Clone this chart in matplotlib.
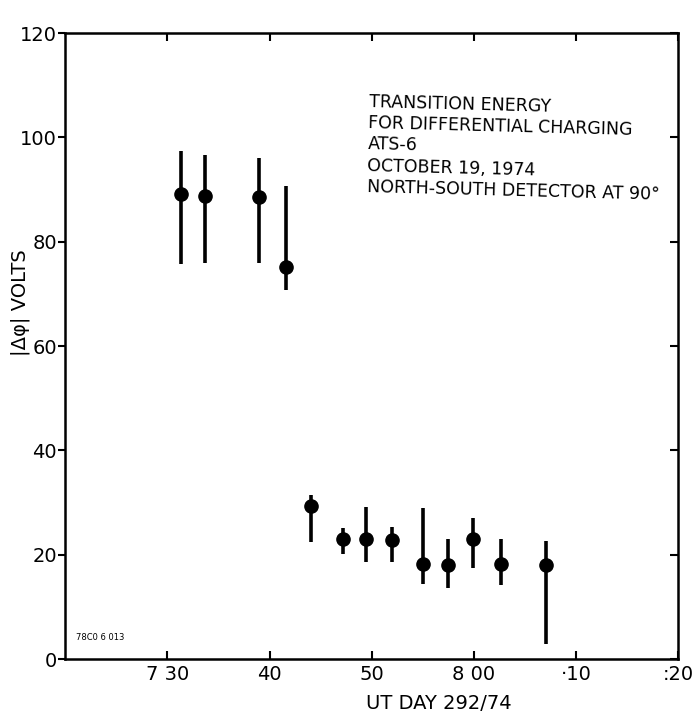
import matplotlib
matplotlib.use("Agg")
import matplotlib.pyplot as plt

# minutes after 07:00 UT, day 292/74
ut_minutes = [31.3, 33.7, 39.0, 41.6, 44.1, 47.2, 49.4, 52.0, 55.0, 57.5, 59.9, 62.6, 67.0]
# transition energy |delta phi| in volts
dphi = [89.1, 88.7, 88.6, 75.2, 29.3, 23.0, 23.0, 22.8, 18.2, 18.0, 23.1, 18.3, 18.1]
dphi_upper = [97.3, 96.7, 96.1, 90.7, 31.4, 25.1, 29.1, 25.3, 28.9, 23.0, 27.0, 23.1, 22.7]
dphi_lower = [75.8, 76.0, 76.0, 70.8, 22.4, 20.1, 18.6, 18.6, 14.4, 13.6, 17.4, 14.3, 2.9]

x_ticks = [30, 40, 50, 60, 70, 80]
x_tick_labels = ["7 30", "40", "50", "8 00", "·10", ":20"]
y_ticks = [0, 20, 40, 60, 80, 100, 120]

note_lines = [
    "TRANSITION ENERGY",
    "FOR DIFFERENTIAL CHARGING",
    "ATS-6",
    "OCTOBER 19, 1974",
    "NORTH-SOUTH DETECTOR AT 90°",
]

fig = plt.figure(figsize=(6.93, 7.18), dpi=100)
ax = fig.add_axes([0.094, 0.082, 0.885, 0.872])

yerr = [
    [v - lo for v, lo in zip(dphi, dphi_lower)],
    [hi - v for v, hi in zip(dphi, dphi_upper)],
]
ax.errorbar(ut_minutes, dphi, yerr=yerr, fmt="o", color="black",
            markersize=9.5, elinewidth=2.6, capsize=0)

ax.set_xlim(20, 80)
ax.set_ylim(0, 120)

for side in ["left", "right", "top", "bottom"]:
    ax.spines[side].set_linewidth(1.8)

ax.set_yticks(y_ticks)
ax.set_yticklabels([str(v) for v in y_ticks], fontsize=14)
ax.tick_params(axis="y", direction="out", length=5, width=1.5, pad=1)
ax.tick_params(axis="y", which="both", right=True, labelright=False)

ax.set_xticks(x_ticks)
ax.set_xticklabels(x_tick_labels, fontsize=14)
ax.tick_params(axis="x", direction="in", length=6, width=1.5, pad=4, top=True)

# right-side ticks point inward
for t in ax.yaxis.get_major_ticks():
    t.tick2line.set_marker(matplotlib.lines.TICKLEFT)
    t.tick2line.set_markersize(6)

ax.set_xlabel("UT DAY 292/74", fontsize=14)
ax.xaxis.set_label_coords(0.61, -0.055)
ax.set_ylabel("|Δφ| VOLTS", fontsize=14)
ax.yaxis.set_label_coords(-0.058, 0.57)

ax.text(0.496, 0.905, "\n".join(note_lines), transform=ax.transAxes,
        fontsize=12.5, va="top", ha="left", linespacing=1.25,
        rotation=-1.5, rotation_mode="anchor")

ax.text(0.018, 0.03, "78C0 6 013", transform=ax.transAxes, fontsize=6)

fig.savefig("out.png", dpi=100)
